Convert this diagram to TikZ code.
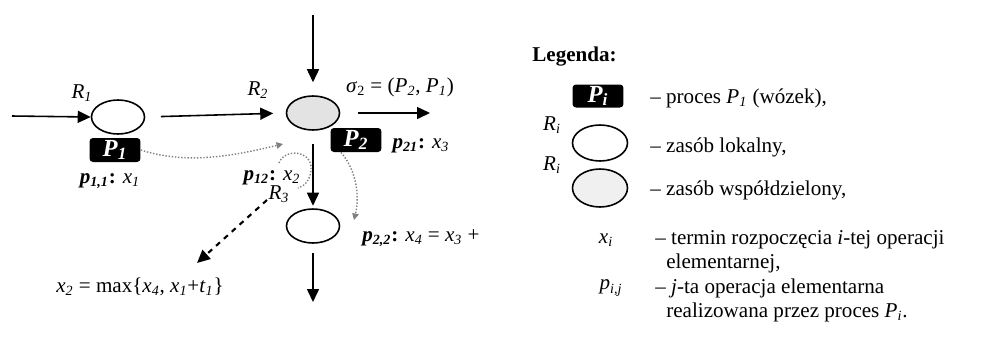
\documentclass[tikz,border=0pt]{standalone}
\usepackage{fontspec}
\setmainfont{Liberation Serif}
\usetikzlibrary{arrows.meta,shapes.geometric}
\newcommand{\ind}[2]{\textit{#1}\textsubscript{\textit{#2}}}
\newcommand{\indb}[2]{\textbf{\textit{#1}\textsubscript{\textit{#2}}:}}
\tikzset{
  zasob/.style={draw, ellipse, line width=0.9pt, minimum width=1.06cm, minimum height=0.68cm, inner sep=0pt},
  wspolny/.style={zasob, fill=gray!22},
  proces/.style={fill=black, rounded corners=2pt, minimum width=1.02cm, minimum height=0.48cm, inner sep=0pt, text=white, font=\fontsize{14}{14}\selectfont\bfseries\itshape},
  strzalka/.style={line width=0.9pt, -{Triangle[length=0.26cm,width=0.24cm]}},
  kropki/.style={gray, densely dotted, line width=0.8pt, -{Triangle[length=0.13cm,width=0.13cm]}},
  opis/.style={anchor=west, inner sep=0pt},
}
\begin{document}
\begin{tikzpicture}[x=0.02cm, y=-0.02cm, font=\fontsize{12}{14}\selectfont]
    \useasboundingbox (0,0) rectangle (988,339);
    % zasoby i procesy
    \node[zasob] (R1) at (118,117) {};
    \node[wspolny] (R2) at (313,113) {};
    \node[zasob] (R3) at (313,226) {};
    \node[proces] (P1) at (115,150) {\ind{P}{1}};
    \node[proces] (P2) at (356,140) {\ind{P}{2}};
    \node (lR1) at (82,93) {\ind{R}{1}};
    \node (lR2) at (258,90) {\ind{R}{2}};
    \node (lR3) at (279,194) {\ind{R}{3}};

    % przeplyw
    \coordinate (wej1) at (12,116);
    \coordinate (wej2) at (313,15);
    \coordinate (wyj2) at (430,113);
    \coordinate (wyj3) at (313,302);
    \draw[strzalka] (wej1) -- (R1.west);
    \draw[strzalka, shorten <=0.31cm, shorten >=0.25cm] (R1.east) -- (R2.west);
    \draw[strzalka, shorten >=0.26cm] (wej2) -- (R2.north);
    \draw[strzalka, shorten <=0.35cm] (R2.east) -- (wyj2);
    \draw[strzalka, shorten <=0.26cm, shorten >=0.05cm] (R2.south) -- (R3.north);
    \draw[strzalka, shorten <=0.19cm] (R3.south) -- (wyj3);

    % operacje
    \node (s2) at (400,87) {\textit{σ}\textsubscript{2} = (\ind{P}{2}, \ind{P}{1})};
    \node (p11) at (110,181) {\indb{p}{1,1} \ind{x}{1}};
    \node (p21) at (421,146) {\indb{p}{21} \ind{x}{3}};
    \node (p12) at (272,178) {\indb{p}{12} \ind{x}{2}};
    \node[opis] (p22) at (362,238) {\indb{p}{2,2} \ind{x}{4} = \ind{x}{3} +};
    \node (max) at (140,287) {\ind{x}{2} = max\{\ind{x}{4}, \ind{x}{1}+\ind{t}{1}\}};

    \coordinate (k1) at (283,144);
    \coordinate (k2) at (354,220);
    \draw[kropki] (P1.east) .. controls (190,166) and (240,154) .. (k1);
    \draw[kropki] ([xshift=-0.3cm]P2.south) .. controls (356,170) and (360,195) .. (k2);
    \draw[gray, densely dotted, line width=0.8pt] (279,163) .. controls (284,148) and (313,150) .. (311,170)
      .. controls (310,180) and (305,186) .. (298,188);
    \coordinate (d1) at (267,200);
    \coordinate (d2) at (197,263);
    \draw[strzalka, dashed, line width=1.2pt] (d1) -- (d2);

    % legenda
    \node[opis, font=\fontsize{12}{14}\selectfont\bfseries] (leg) at (532,57) {Legenda:};
    \node[proces, minimum height=0.46cm] (Pi) at (598,96) {\ind{P}{i}};
    \node (lRa) at (552,125) {\ind{R}{i}};
    \node[zasob, minimum width=1.1cm, minimum height=0.72cm] (Ra) at (600,143) {};
    \node (lRb) at (552,165) {\ind{R}{i}};
    \node[zasob, fill=gray!12, minimum width=1.1cm, minimum height=0.76cm] (Rb) at (600,188) {};
    \node (xi) at (606,240) {\ind{x}{i}};
    \node (pij) at (611,288) {\ind{p}{i,j}};
    \foreach \n/\x/\y/\t in {a/650/98/{– proces \ind{P}{1} (wózek),},
        b/650/147/{– zasób lokalny,},
        c/650/190/{– zasób współdzielony,},
        d/655/240/{– termin rozpoczęcia \textit{i}-tej operacji},
        e/666/263/{elementarnej,},
        f/655/288/{– \textit{j}-ta operacja elementarna},
        g/666/312/{realizowana przez proces \ind{P}{i}.}}{
      \node[opis] (opis\n) at (\x,\y) {\t};
    }
  \end{tikzpicture}
\end{document}
